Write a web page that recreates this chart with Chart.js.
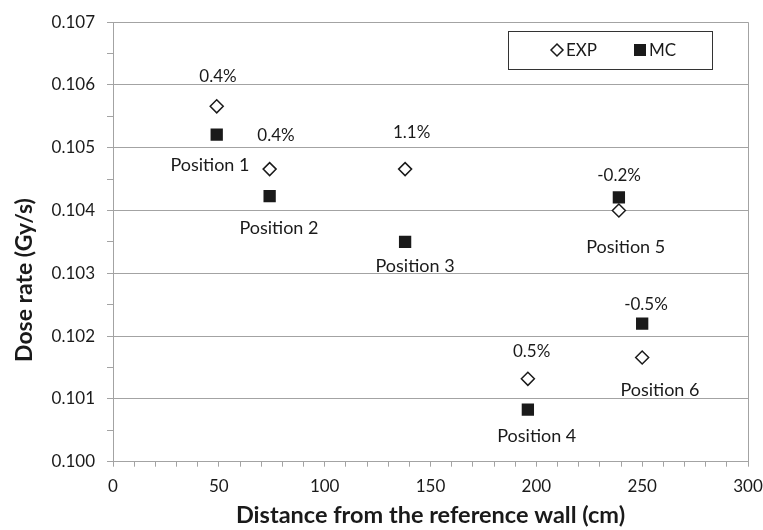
<!DOCTYPE html>
<html>
<head>
<meta charset="utf-8">
<script src="https://cdn.jsdelivr.net/npm/chart.js@4"></script>
<style>
  html, body { margin: 0; padding: 0; background: #fff; }
  canvas { display: block; }
</style>
</head>
<body>
<canvas id="chart-dose" width="763" height="530"></canvas>
<script>
// dose rate vs distance — EXP x MC

const distance = [49, 74, 138, 196, 239, 250];
const doseExp  = [0.10566, 0.10466, 0.10466, 0.10132, 0.10400, 0.10166];
const doseMc   = [0.10521, 0.10423, 0.10350, 0.10083, 0.10421, 0.10220];

// rótulos (posição em unidades de dados)
const pctText  = ['0.4%', '0.4%', '1.1%', '0.5%', '-0.2%', '-0.5%'];
const pctX     = [49.6, 77.0, 141.1, 197.8, 239.1, 251.8];
const pctY     = [0.10614, 0.10519, 0.10524, 0.10175, 0.10456, 0.10250];
const posText  = ['Position 1', 'Position 2', 'Position 3', 'Position 4', 'Position 5', 'Position 6'];
const posX     = [45.8, 78.4, 142.7, 200.2, 242.2, 258.4];
const posY     = [0.10472, 0.10372, 0.10311, 0.10041, 0.10341, 0.10114];

const xMin = 0, xMax = 300, xStep = 10, xLabelEvery = 50;
const yMin = 0.100, yMax = 0.107, yStep = 0.0005;

const FONT = 'Lato, "Open Sans", sans-serif';
const GRID = '#a3a3a3';
const INK  = '#1a1a1a';

const isMajorY = v => Math.abs(v * 1000 - Math.round(v * 1000)) < 1e-6;

const extras = {
  id: 'extras',
  beforeDatasetsDraw(chart) {
    const { ctx, chartArea: a } = chart;
    ctx.save();
    ctx.strokeStyle = GRID;
    ctx.lineWidth = 1;
    ctx.beginPath();
    ctx.moveTo(a.right + 0.5, a.top);
    ctx.lineTo(a.right + 0.5, a.bottom);
    ctx.stroke();
    ctx.restore();
  },
  afterDatasetsDraw(chart) {
    const { ctx, scales: { x, y } } = chart;
    ctx.save();
    ctx.fillStyle = INK;
    ctx.textAlign = 'center';
    ctx.textBaseline = 'middle';
    ctx.font = '17px ' + FONT;
    pctText.forEach((t, i) => ctx.fillText(t, x.getPixelForValue(pctX[i]), y.getPixelForValue(pctY[i])));
    ctx.font = '18px ' + FONT;
    posText.forEach((t, i) => ctx.fillText(t, x.getPixelForValue(posX[i]), y.getPixelForValue(posY[i])));

    // título do eixo Y (no Excel fica deslocado para baixo)
    ctx.save();
    ctx.translate(25, 280);
    ctx.rotate(-Math.PI / 2);
    ctx.font = 'bold 23px ' + FONT;
    ctx.fillText('Dose rate (Gy/s)', 0, 0);
    ctx.restore();

    // legenda
    const bx = 508, by = 31, bw = 204, bh = 38;
    ctx.fillStyle = '#fff';
    ctx.fillRect(bx, by, bw, bh);
    ctx.strokeStyle = '#333';
    ctx.lineWidth = 1;
    ctx.strokeRect(bx + 0.5, by + 0.5, bw, bh);
    const cy = by + bh / 2;
    ctx.beginPath();
    ctx.moveTo(557, cy - 6); ctx.lineTo(563, cy); ctx.lineTo(557, cy + 6); ctx.lineTo(551, cy);
    ctx.closePath();
    ctx.lineWidth = 1.5;
    ctx.strokeStyle = INK;
    ctx.stroke();
    ctx.fillStyle = INK;
    ctx.fillRect(634, cy - 6, 12, 12);
    ctx.textAlign = 'left';
    ctx.font = '17px ' + FONT;
    ctx.fillText('EXP', 566, cy + 1);
    ctx.fillText('MC', 649, cy + 1);
    ctx.restore();
  }
};

new Chart(document.getElementById('chart-dose').getContext('2d'), {
  type: 'scatter',
  data: {
    datasets: [
      {
        label: 'EXP',
        data: distance.map((d, i) => ({ x: d, y: doseExp[i] })),
        pointStyle: 'rectRot',
        pointRadius: 6.5,
        pointBorderWidth: 1.5,
        borderColor: INK,
        backgroundColor: '#fff',
      },
      {
        label: 'MC',
        data: distance.map((d, i) => ({ x: d, y: doseMc[i] })),
        pointStyle: 'rect',
        pointRadius: 8.7,
        pointBorderWidth: 0,
        borderColor: INK,
        backgroundColor: INK,
      }
    ]
  },
  options: {
    responsive: false,
    animation: false,
    devicePixelRatio: 1,
    layout: { padding: { top: 13, right: 15, bottom: 0, left: 0 } },
    plugins: { legend: { display: false }, tooltip: { enabled: false } },
    scales: {
      x: {
        type: 'linear', min: xMin, max: xMax,
        afterFit: s => { s.height = 68.3; s.paddingLeft = 0; s.paddingRight = 15; },
        border: { color: GRID, width: 1 },
        grid: { color: 'transparent', tickColor: GRID, tickLength: 5, drawOnChartArea: false },
        ticks: {
          stepSize: xStep, autoSkip: false, maxRotation: 0, padding: 10,
          color: INK, font: { family: FONT, size: 17 },
          callback: v => (v % xLabelEvery === 0 ? v : '')
        },
        title: {
          display: true, text: 'Distance from the reference wall (cm)',
          color: INK, font: { family: FONT, size: 23.5, weight: 'bold' },
          padding: { top: 4, bottom: 0 }
        }
      },
      y: {
        type: 'linear', min: yMin, max: yMax,
        afterFit: s => { s.width = 113; },
        border: { color: GRID, width: 1 },
        grid: {
          color: c => (isMajorY(c.tick.value) ? GRID : 'transparent'),
          tickColor: GRID, tickLength: 6
        },
        ticks: {
          stepSize: yStep, autoSkip: false, padding: 12,
          color: INK, font: { family: FONT, size: 17 },
          callback: v => (isMajorY(v) ? v.toFixed(3) : '')
        },
        title: { display: false }
      }
    }
  },
  plugins: [extras]
});
</script>
</body>
</html>
